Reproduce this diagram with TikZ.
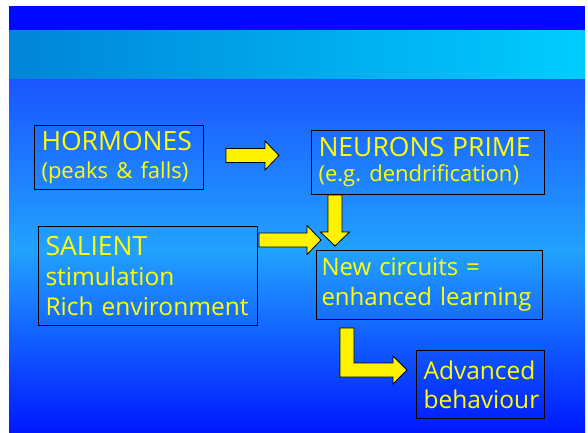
\documentclass[tikz,border=0pt]{standalone}
\usepackage{fontspec}
\setmainfont{Open Sans}
\usepackage{tikz}
\usetikzlibrary{positioning, calc}

\definecolor{bandtop}{HTML}{0008FF}
\definecolor{bandleft}{HTML}{0084D8}
\definecolor{bandright}{HTML}{00CCFF}
\definecolor{bgtop}{HTML}{1A55FF}
\definecolor{bgmid}{HTML}{22A2FF}
\definecolor{bgbot}{HTML}{0018FF}
\definecolor{txtyellow}{HTML}{FFFF00}

% block arrow: start point, length, angle
\newcommand{\blockarr}[3]{%
  \draw[blockarrow, shift={(#1)}, rotate=#3]
    (0,-7) -- ({#2-14},-7) -- ({#2-14},-14.5) -- (#2,0) -- ({#2-14},14.5) -- ({#2-14},7) -- (0,7) -- cycle;}
\newcommand{\capsline}[1]{{\fontsize{26.5}{30}\selectfont #1}}
\newcommand{\smallline}[1]{{\fontsize{22}{30}\selectfont #1}}

\begin{document}
\begin{tikzpicture}[x=1pt, y=-1pt,
  box/.style={draw=black, line width=1pt, text=txtyellow, align=left, anchor=north west,
    inner xsep=7pt, inner ysep=0pt, font=\fontsize{24.5}{30}\selectfont},
  blockarrow/.style={fill=yellow, draw=black, line width=0.8pt, line join=miter}]
  \useasboundingbox (0,0) rectangle (588,432);
  % background
  \fill[white] (0,0) rectangle (588,432);
  \fill[bandtop] (9,6) rectangle (585,30);
  \shade[left color=bandleft, right color=bandright] (9,30) rectangle (585,79);
  \shade[top color=bgtop, bottom color=bgmid] (9,79) rectangle (585,250);
  \shade[top color=bgmid, bottom color=bgbot] (9,250) rectangle (585,432);

  \node[box, text width=155pt, minimum height=64pt, font=\fontsize{24.5}{28}\selectfont] (horm) at (34,125)
    {\capsline{HORMONES}\\\smallline{(peaks \& falls)}};
  \node[box, text width=219pt, minimum height=64pt, font=\fontsize{24.5}{25}\selectfont] (neur) at (311,130)
    {\capsline{NEURONS PRIME}\\\smallline{(e.g.\ dendrification)}};
  \node[box, text width=205pt, minimum height=99pt] (sal) at (38,226)
    {\capsline{SALIENT}\\stimulation\\Rich environment};
  \node[box, inner xsep=5pt, text width=216pt, minimum height=69pt, font=\fontsize{24}{30}\selectfont] (circ) at (316,250)
    {New circuits =\\enhanced learning};
  \node[box, text width=114pt, minimum height=68pt, font=\fontsize{24.5}{29}\selectfont] (adv) at (416,350)
    {Advanced\\behaviour};

  \coordinate (h2n) at ($(horm.east)+(22,-2)$);
  \coordinate (n2c) at ($(neur.south west)+(24,0)$);
  \coordinate (s2c) at ($(sal.north east)+(1,14)$);
  \coordinate (c2a) at ($(circ.south west)+(24,8)$);
  \blockarr{h2n}{53}{0}
  \blockarr{n2c}{51}{-90}
  \blockarr{s2c}{62}{0}
  \draw[blockarrow] (c2a) -- ++(14,0) -- ++(0,35) -- ++(39,0) -- ++(0,-7) -- ++(14,14)
    -- ++(-14,14) -- ++(0,-7) -- ++(-53,0) -- cycle;
\end{tikzpicture}
\end{document}
